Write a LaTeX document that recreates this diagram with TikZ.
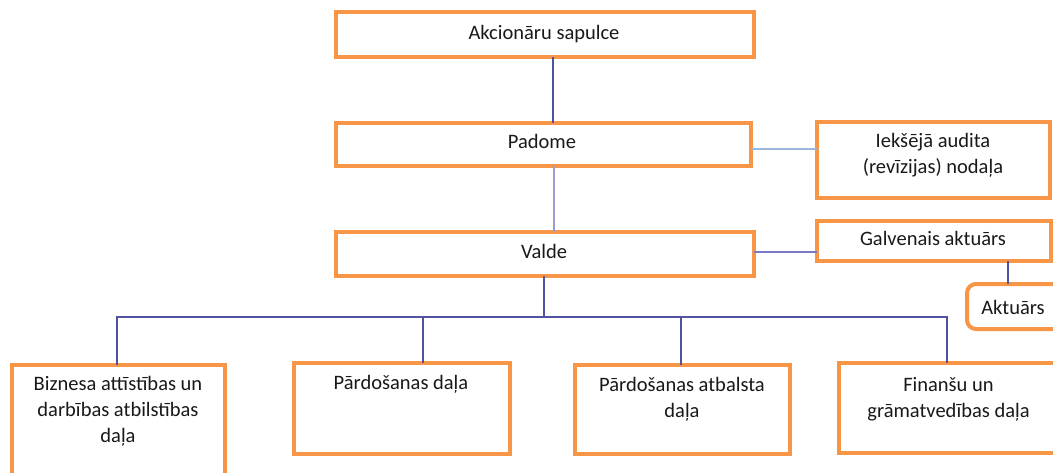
\documentclass[tikz,border=0pt]{standalone}
\usepackage{fontspec}
\setmainfont{Carlito}
\usetikzlibrary{calc}
\definecolor{boxorange}{HTML}{F79646}
\definecolor{lineind}{HTML}{5252A3}
\definecolor{linelav}{HTML}{9C9CD2}
\definecolor{lineblue}{HTML}{9DB7DA}
\definecolor{linemid}{HTML}{7A7AC4}
\tikzset{
  orgbox/.style={draw=boxorange, line width=4pt, fill=white, rectangle, inner sep=0pt, outer sep=0pt},
  lbl/.style={font=\fontsize{20.5}{26}\selectfont, align=center, anchor=base, inner sep=0pt, text=black!90},
  conn/.style={draw=lineind, line width=1.4pt},
}
\begin{document}
\begin{tikzpicture}[x=1pt,y=-1pt]
\useasboundingbox (0,0) rectangle (1053,472);
% boxes
\node[orgbox, minimum width=418pt, minimum height=45pt] (sapulce) at (545,34.5) {};
\node[orgbox, minimum width=415pt, minimum height=43pt] (padome) at (543.5,144.5) {};
\node[orgbox, minimum width=418pt, minimum height=44pt] (valde) at (545,254) {};
\node[orgbox, minimum width=233pt, minimum height=76pt] (audit) at (933.5,160) {};
\node[orgbox, minimum width=234pt, minimum height=40pt] (galv) at (934,241) {};
\node[orgbox, rounded corners=9pt, minimum width=103pt, minimum height=45pt] (akt) at (1018.5,306.5) {};
\node[orgbox, minimum width=213pt, minimum height=115pt] (bA) at (118.5,422.5) {};
\node[orgbox, minimum width=216pt, minimum height=91pt] (bB) at (402,408.5) {};
\node[orgbox, minimum width=215pt, minimum height=89pt] (bC) at (682.5,409.5) {};
\node[orgbox, minimum width=231pt, minimum height=90pt] (bD) at (954.5,408) {};
% connectors
\draw[conn] ($(sapulce.south)+(8,0)$) -- ($(padome.north)+(9.5,0)$);
\draw[conn, draw=linelav, line width=2pt] ($(padome.south)+(10.5,0)$) -- ($(valde.north)+(9,0)$);
\draw[conn, draw=lineblue, line width=2pt] ($(padome.east)+(0,4.5)$) -- ($(audit.west)+(0,-11)$);
\draw[conn, draw=linemid] ($(valde.east)+(0,-2)$) -- ($(galv.west)+(0,11)$);
\draw[conn] ($(galv.south)+(74,0)$) -- ($(akt.north)+(-10.5,0)$);
\coordinate (bus) at (544,317);
\draw[conn] ($(valde.south)+(-1,0)$) -- (bus);
\draw[conn] ($(bA.north)+(-1.5,0)$) |- (bus) -| ($(bD.north)+(-7.5,0)$);
\draw[conn] ($(bB.north)+(21,0)$) |- (bus);
\draw[conn] ($(bC.north)+(-1.5,0)$) |- (bus);
% texts (anchor base = baseline of last line)
\node[lbl] (tsap) at (544,39) {Akcionāru sapulce};
\node[lbl] (tpad) at (542,148) {Padome};
\node[lbl] (tval) at (544,258) {Valde};
\node[lbl] (taud) at (933,173) {Iekšējā audita\\(revīzijas) nodaļa};
\node[lbl] (tgal) at (933,245) {Galvenais aktuārs};
\node[lbl] (takt) at (1013,314) {Aktuārs};
\node[lbl] (tA) at (118,442) {Biznesa attīstības un\\darbības atbilstības\\daļa};
\node[lbl] (tB) at (401,389) {Pārdošanas daļa};
\node[lbl] (tC) at (682,417) {Pārdošanas atbalsta\\daļa};
\node[lbl] (tD) at (948.5,417) {Finanšu un\\grāmatvedības daļa};
\end{tikzpicture}
\end{document}
